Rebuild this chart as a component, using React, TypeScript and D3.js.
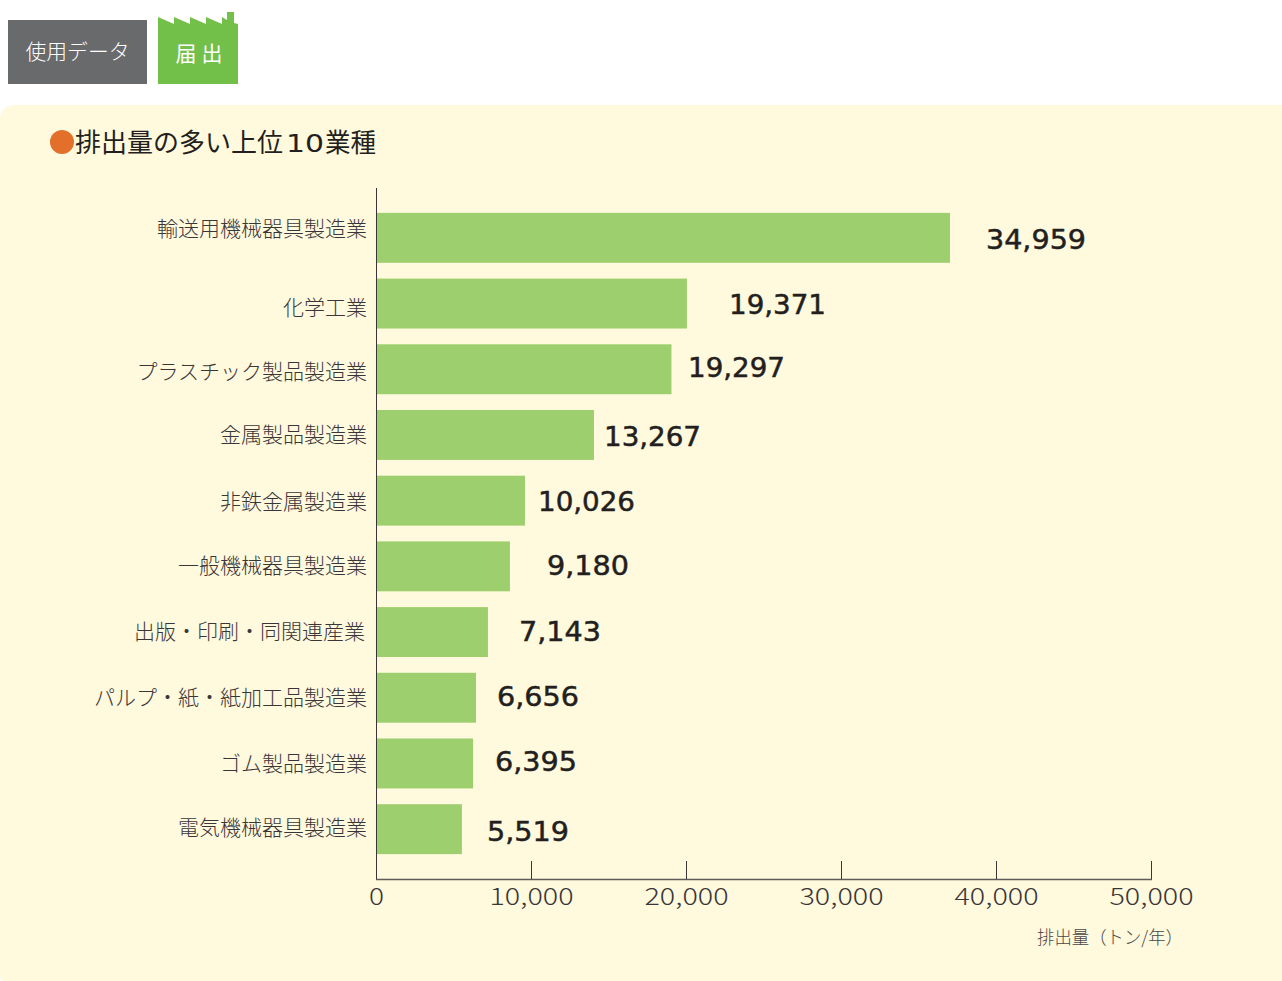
import React from "react";
import * as d3 from "d3";

const categories = ["輸送用機械器具製造業","化学工業","プラスチック製品製造業","金属製品製造業","非鉄金属製造業","一般機械器具製造業","出版・印刷・同関連産業","パルプ・紙・紙加工品製造業","ゴム製品製造業","電気機械器具製造業"];
const labelValues = [34959,19371,19297,13267,10026,9180,7143,6656,6395,5519];
// bar lengths as drawn in the picture (they differ slightly from the printed numbers)
const barLengths = [37000,20030,19030,14030,9580,8610,7190,6420,6230,5510];
const ticks = [0,10000,20000,30000,40000,50000];

// layout only
const valueLabelX = [986,729,688,604,538,547,519,497,495,487];
const valueLabelDy = [1,0,-2,1,0,-1,-1,-2,-2,2];
const categoryDy = [-10,3,2,-1,0,-1,-1,-1,0,-2];
const categoryDx = [0,0,0,0,0,0,-2,0,0,0];
const FONT = "'Noto Sans CJK JP','Noto Sans',sans-serif";
const NUM = "'DejaVu Sans',sans-serif";
const INK = "#231f20";

const x = d3.scaleLinear().domain([0,50000]).range([376.5,1151.5]);
const y = d3.scaleBand<string>().domain(categories).range([205,862]).paddingInner(0.24).paddingOuter(0.12);
const fmt = d3.format(",");

export default function App(){
  const bw = y.bandwidth();
  return (
    <svg width={1282} height={981} viewBox="0 0 1282 981" style={{position:"absolute",left:0,top:0,display:"block"}} fontFamily={FONT}>
      <rect width={1282} height={981} fill="#fff"/>
      <path d="M0 120 Q0 105 16 105 H1282 V981 H5 Q0 981 0 976 Z" fill="#fff9dd"/>
      <rect x={8} y={20} width={139} height={64} fill="#696a6c"/>
      <text x={77.5} y={59} fill="#fff" fontSize={21} fontWeight={300} textAnchor="middle" textLength={104} lengthAdjust="spacingAndGlyphs">使用データ</text>
      <path d="M158 17 L174 24 V17 L190 24 V17 L206 24 V17 L222 24 V17 L227 20 V12 L234 12 V23 L238 24 V84 H158 Z" fill="#72c04a"/>
      <text x={199} y={61} fill="#fff" fontSize={21} fontWeight={400} textAnchor="middle" textLength={47}>届 出</text>
      <circle cx={62} cy={142} r={12} fill="#e2702a"/>
      <text x={75} y={152} fill={INK} fontSize={26} fontWeight={400} textLength={208} lengthAdjust="spacingAndGlyphs">排出量の多い上位</text>
      <text x={286} y={152} fill={INK} fontSize={25} fontWeight={400} textLength={38} lengthAdjust="spacingAndGlyphs" fontFamily={NUM}>10</text>
      <text x={325} y={152} fill={INK} fontSize={26} fontWeight={400} textLength={51} lengthAdjust="spacingAndGlyphs">業種</text>

      {categories.map((c,i)=>(
        <rect key={c} x={x(0)} y={y(c)!} width={x(barLengths[i])-x(0)} height={bw} fill="#9ecf6e"/>
      ))}
      <line x1={376.5} x2={376.5} y1={188} y2={880} stroke="#3a3638" strokeWidth={1}/>
      <line x1={376} x2={1152} y1={879.5} y2={879.5} stroke="#5f5b58" strokeWidth={1.3}/>
      {ticks.map(t=>(
        <g key={t}>
          <line x1={x(t)} x2={x(t)} y1={861} y2={879} stroke="#3a3638" strokeWidth={1}/>
          <text x={x(t)} y={905} fill="#3a3638" fontSize={23} fontWeight={300} textAnchor="middle" textLength={t===0?15:84} lengthAdjust="spacingAndGlyphs">{fmt(t)}</text>
        </g>
      ))}
      {categories.map((c,i)=>(
        <text key={c} x={367+categoryDx[i]} y={y(c)!+bw/2+8+categoryDy[i]} fill="#3a3638" fontSize={21} fontWeight={300} textAnchor="end">{c}</text>
      ))}
      {categories.map((c,i)=>{
        const s = fmt(labelValues[i]);
        return <text key={c} x={valueLabelX[i]} y={y(c)!+bw/2+10+valueLabelDy[i]} fill={INK} stroke={INK} strokeWidth={0.5} fontFamily={NUM} fontSize={27} fontWeight={400} textLength={s.length===6?(i<1?100:97):82} lengthAdjust="spacingAndGlyphs">{s}</text>;
      })}
      <text x={1037} y={944} fill="#4a4648" fontSize={18} fontWeight={300} textLength={146} lengthAdjust="spacingAndGlyphs">排出量（トン/年）</text>
    </svg>
  );
}
